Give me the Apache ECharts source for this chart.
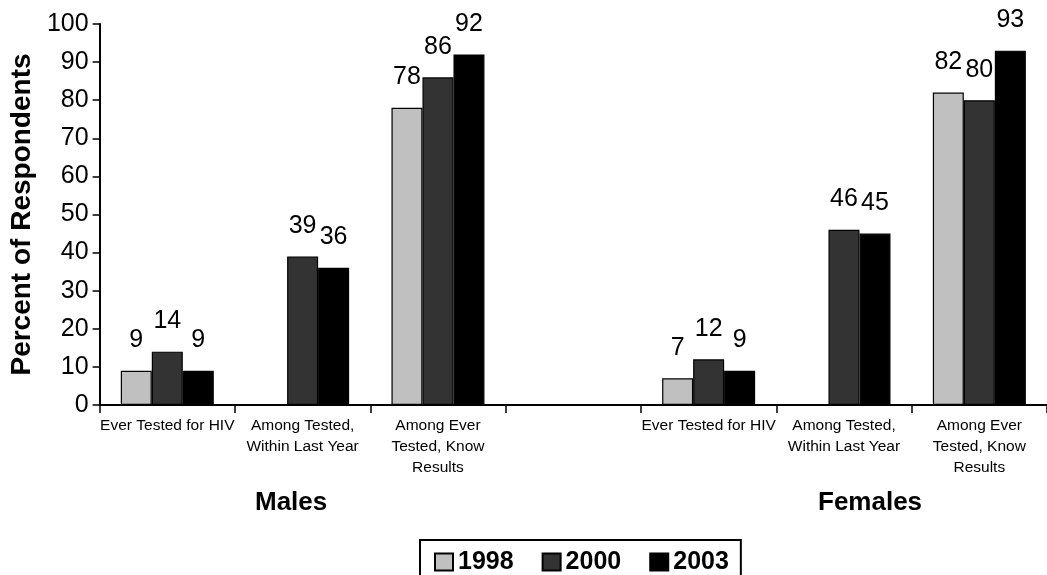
<!DOCTYPE html>
<html>
<head>
<meta charset="utf-8">
<script src="https://cdn.jsdelivr.net/npm/echarts@6/dist/echarts.min.js"></script>
<style>
html,body{margin:0;padding:0;background:#fff;}
#c{width:1047px;height:575px;}
</style>
</head>
<body>
<div id="c"></div>
<script>
var categories = ['Ever Tested for HIV', 'Among Tested,\nWithin Last Year', 'Among Ever\nTested, Know\nResults', '', 'Ever Tested for HIV', 'Among Tested,\nWithin Last Year', 'Among Ever\nTested, Know\nResults'];
var seriesNames = ['1998', '2000', '2003'];
var s1998 = [9, null, 78, null, 7, null, 82];
var s2000 = [14, 39, 86, null, 12, 46, 80];
var s2003 = [9, 36, 92, null, 9, 45, 93];
var groupLabels = ['Males', 'Females'];
var yTitle = 'Percent of Respondents';

var FONT = "'Liberation Sans', Arial, sans-serif";
var colors = ['#c0c0c0', '#333333', '#000000'];
var values = [s1998, s2000, s2003];

var chart = echarts.init(document.getElementById('c'), null, {renderer: 'canvas'});

var series = seriesNames.map(function (n, i) {
  return {
    name: n,
    type: 'bar',
    data: values[i],
    barWidth: 31,
    barGap: '0%',
    itemStyle: {color: colors[i], borderColor: '#000', borderWidth: 1.2},
    label: {
      show: true,
      position: 'top',
      distance: 18,
      fontSize: 25,
      fontFamily: FONT,
      color: '#000'
    },
    emphasis: {disabled: true}
  };
});

chart.setOption({
  animation: false,
  backgroundColor: '#fff',
  textStyle: {fontFamily: FONT},
  grid: {left: 97, top: 24, bottom: 170, width: 958, containLabel: false},
  legend: {
    data: seriesNames,
    left: 420,
    top: 540,
    orient: 'horizontal',
    itemWidth: 18,
    itemHeight: 17,
    itemGap: 28,
    padding: [7, 12, 12, 14],
    borderColor: '#000',
    borderWidth: 2,
    icon: 'rect',
    textStyle: {fontSize: 25, fontWeight: 'bold', color: '#000', fontFamily: FONT, lineHeight: 30},
    selectedMode: false
  },
  xAxis: {
    type: 'category',
    data: categories,
    boundaryGap: true,
    axisLine: {lineStyle: {color: '#000', width: 2}},
    axisTick: {show: true, length: 8, lineStyle: {color: '#000', width: 1.5}},
    axisLabel: {interval: 0, fontSize: 15.5, lineHeight: 21, color: '#000', margin: 10, fontFamily: FONT},
    splitLine: {show: false}
  },
  yAxis: {
    type: 'value',
    min: 0,
    max: 100,
    interval: 10,
    name: yTitle,
    nameLocation: 'middle',
    nameRotate: 90,
    nameGap: 63,
    nameTextStyle: {fontSize: 28, fontWeight: 'bold', color: '#000', fontFamily: FONT},
    axisLine: {show: true, lineStyle: {color: '#000', width: 2}},
    axisTick: {show: true, length: 7, lineStyle: {color: '#000', width: 1.5}},
    axisLabel: {fontSize: 25, color: '#000', margin: 11, fontFamily: FONT},
    splitLine: {show: false}
  },
  graphic: [
    {type: 'text', left: 255, top: 490, style: {text: groupLabels[0], font: 'bold 26px ' + FONT, fill: '#000'}},
    {type: 'text', left: 818, top: 490, style: {text: groupLabels[1], font: 'bold 26px ' + FONT, fill: '#000'}}
  ],
  series: series
});
</script>
</body>
</html>
